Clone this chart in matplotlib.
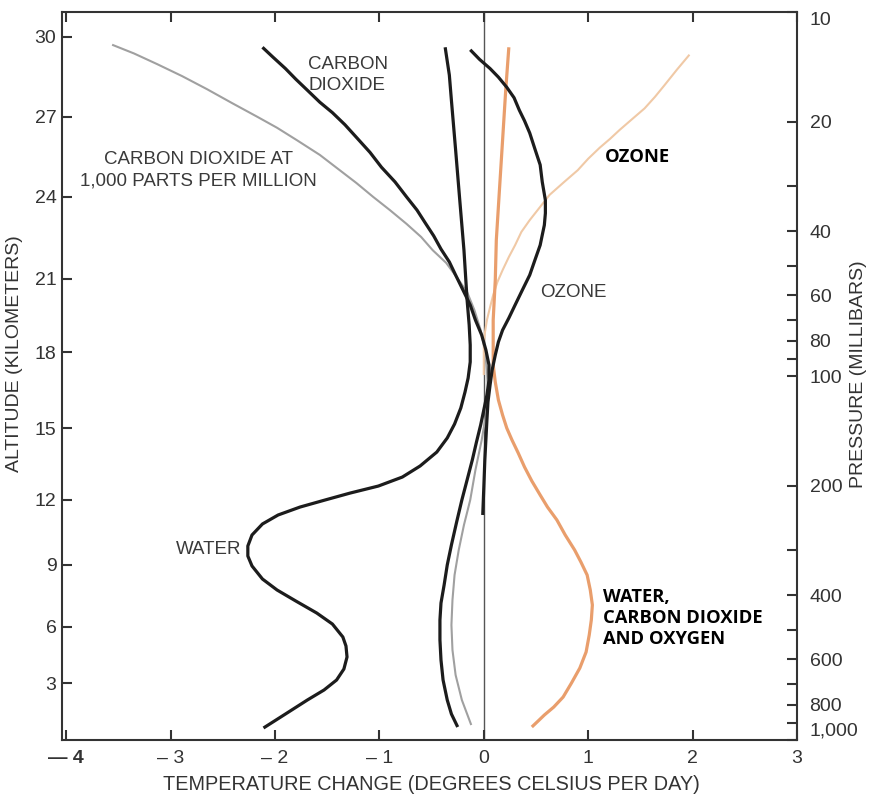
import matplotlib.pyplot as plt
from matplotlib.ticker import FixedLocator, FixedFormatter, NullLocator

plt.rcParams['font.family'] = ['Liberation Sans', 'DejaVu Sans']

# temperature change (deg C / day) against pressure (mb)
co2_1000_t = [-3.56, -3.35, -3.13, -2.89, -2.65, -2.41, -2.17, -1.98, -1.79, -1.57, -1.38, -1.22,
              -1.06, -0.90, -0.74, -0.60, -0.49, -0.36, -0.26, -0.16, -0.09, -0.03, 0.01, 0.03,
              0.04, 0.02, -0.02, -0.08, -0.13, -0.19, -0.24, -0.28, -0.30, -0.31, -0.30, -0.27,
              -0.21, -0.12]
co2_1000_p = [12.3, 13.0, 13.9, 15.0, 16.3, 17.8, 19.4, 20.8, 22.5, 24.7, 27.2, 29.5,
              32.2, 35.0, 38.2, 41.5, 45.1, 48.9, 53.5, 58.8, 65.9, 74.8, 84.8, 96.3,
              109.3, 128.0, 149.9, 181.2, 219.1, 256.6, 300.6, 352.2, 412.5, 483.3, 565.8, 662.8,
              776.5, 909.6]

co2_t = [-2.12, -2.02, -1.90, -1.80, -1.69, -1.57, -1.45, -1.33, -1.22, -1.09, -0.98, -0.85,
         -0.74, -0.64, -0.56, -0.48, -0.41, -0.33, -0.27, -0.20, -0.13, -0.08, -0.02, 0.02,
         0.05, 0.05, 0.03, 0.00, -0.03, -0.07, -0.11, -0.16, -0.21, -0.26, -0.31, -0.35,
         -0.38, -0.41, -0.42, -0.42, -0.41, -0.39, -0.35, -0.31, -0.25]
co2_p = [12.5, 13.3, 14.3, 15.3, 16.4, 17.7, 18.9, 20.4, 22.1, 24.3, 26.7, 29.3,
         32.2, 35.0, 38.0, 41.2, 44.8, 48.6, 52.8, 58.0, 63.8, 70.2, 77.2, 84.8,
         93.3, 102.6, 112.8, 124.0, 136.3, 151.8, 170.1, 193.1, 219.1, 251.8, 291.2, 330.5,
         375.2, 420.5, 468.0, 531.2, 602.8, 684.2, 776.5, 848.5, 921.0]

water_t = [-0.37, -0.33, -0.31, -0.27, -0.23, -0.19, -0.16, -0.14, -0.13, -0.13, -0.15, -0.18,
           -0.22, -0.28, -0.35, -0.45, -0.61, -0.78, -1.01, -1.28, -1.52, -1.76, -1.97, -2.12,
           -2.22, -2.26, -2.26, -2.22, -2.12, -1.98, -1.80, -1.60, -1.45, -1.35, -1.32, -1.31,
           -1.34, -1.41, -1.53, -1.69, -1.90, -2.11]
water_p = [12.5, 14.9, 17.5, 23.9, 32.9, 45.1, 61.8, 72.4, 82.2, 91.5, 101.3, 110.7,
           122.4, 135.5, 148.0, 161.8, 176.7, 189.5, 200.6, 209.7, 219.1, 229.1, 240.9, 255.0,
           273.4, 293.1, 312.3, 332.6, 361.2, 387.2, 415.2, 447.9, 480.2, 521.2, 551.8, 591.6,
           638.3, 684.2, 728.8, 776.5, 848.5, 926.8]

ozone_t = [-0.13, -0.04, 0.06, 0.14, 0.22, 0.29, 0.34, 0.39, 0.44, 0.49, 0.54, 0.56,
           0.59, 0.59, 0.58, 0.56, 0.54, 0.49, 0.44, 0.37, 0.30, 0.24, 0.18, 0.14,
           0.11, 0.08, 0.06, 0.04, 0.03, 0.02, 0.01, 0.00, -0.01]
ozone_p = [12.7, 13.5, 14.3, 15.1, 16.1, 17.2, 18.6, 19.9, 21.5, 23.8, 26.3, 29.3,
           32.9, 35.7, 38.5, 41.0, 43.7, 48.0, 52.8, 58.0, 63.8, 69.3, 74.8, 80.6,
           87.6, 96.3, 105.9, 117.9, 132.1, 149.9, 170.1, 203.1, 240.9]

ozone_new_t = [1.97, 1.85, 1.73, 1.64, 1.54, 1.42, 1.30, 1.21, 1.11, 1.00, 0.90, 0.77, 0.63,
               0.54, 0.44, 0.36, 0.30, 0.24, 0.18, 0.13, 0.09, 0.06, 0.03, 0.01, 0.00, 0.00]
ozone_new_p = [13.1, 14.4, 15.9, 17.1, 18.4, 19.7, 21.1, 22.3, 23.6, 25.3, 27.2, 29.3, 31.8,
               34.3, 37.3, 40.2, 43.7, 47.1, 51.2, 55.2, 59.9, 64.7, 70.2, 76.2, 82.2, 99.4]

wco_t = [0.24, 0.21, 0.18, 0.15, 0.12, 0.11, 0.09, 0.09, 0.09, 0.11, 0.14, 0.18, 0.22,
         0.27, 0.33, 0.39, 0.46, 0.54, 0.61, 0.70, 0.78, 0.87, 0.93, 0.99, 1.02, 1.04,
         1.03, 1.01, 0.98, 0.92, 0.84, 0.76, 0.67, 0.58, 0.52, 0.46]
wco_p = [12.5, 16.4, 22.5, 30.8, 42.3, 54.5, 70.2, 82.2, 93.3, 103.9, 116.4, 128.0, 139.0,
         149.9, 162.8, 177.8, 194.3, 212.3, 229.1, 248.6, 273.4, 300.6, 324.3, 352.2, 387.2, 425.7,
         468.0, 514.6, 573.1, 634.2, 697.3, 762.0, 811.9, 853.8, 887.0, 921.0]

# axis ticks
alt_km = [3, 6, 9, 12, 15, 18, 21, 24, 27, 30]
alt_mb = [698, 489, 330, 219, 139, 86, 54, 32.2, 19.4, 11.7]
p_major = [10, 20, 40, 60, 80, 100, 200, 400, 600, 800, 1000]
p_major_lbl = ['10', '20', '40', '60', '80', '100', '200', '400', '600', '800', '1,000']
p_minor = [30, 50, 70, 90, 300, 500, 700, 900]
t_ticks = [-4, -3, -2, -1, 0, 1, 2, 3]
t_lbl = ['\u2014 4', '\u2013 3', '\u2013 2', '\u2013 1', '0', '1', '2', '3']

W, H = 871, 795
fig = plt.figure(figsize=(W / 100, H / 100), dpi=100)
ax = fig.add_axes([62 / W, 1 - 740 / H, 735 / W, 728 / H])
ax.set_yscale('log')
ax.set_xlim(-4.04, 3)
ax.set_ylim(1000, 10)

ax.axvline(0, color='#555555', lw=1.0, zorder=1)

line_kw = dict(solid_joinstyle='round', solid_capstyle='butt')
ax.plot(co2_1000_t, co2_1000_p, color='#a0a0a0', lw=1.5, zorder=2, **line_kw)
ax.plot(ozone_new_t, ozone_new_p, color='#f0c9a6', lw=1.5, zorder=2, **line_kw)
ax.plot(wco_t, wco_p, color='#e99e6c', lw=2.3, zorder=3, **line_kw)
for t, p in [(co2_t, co2_p), (water_t, water_p), (ozone_t, ozone_p)]:
    ax.plot(t, p, color='#1c1c1c', lw=2.3, zorder=4, **line_kw)

# frame and ticks
for s in ax.spines.values():
    s.set_color('#333333')
    s.set_linewidth(1.5)

ax.set_xticks(t_ticks)
ax.set_xticklabels(t_lbl)
ax.get_xticklabels()[0].set_fontweight('bold')
ax.tick_params(axis='x', top=True, direction='in', length=7, width=1.5, color='#333333',
               labelsize=14, labelcolor='#333333', pad=7)

ax.yaxis.set_major_locator(FixedLocator(alt_mb))
ax.yaxis.set_major_formatter(FixedFormatter([str(a) for a in alt_km]))
ax.yaxis.set_minor_locator(NullLocator())
ax.tick_params(axis='y', which='both', right=False, direction='in', length=7, width=1.5,
               color='#333333', labelsize=14, labelcolor='#333333', pad=4)

ax2 = ax.twinx()
ax2.set_yscale('log')
ax2.set_ylim(1000, 10)
ax2.yaxis.set_major_locator(FixedLocator(p_major))
ax2.yaxis.set_major_formatter(FixedFormatter(p_major_lbl))
ax2.yaxis.set_minor_locator(FixedLocator(p_minor))
ax2.tick_params(axis='y', which='both', direction='in', length=7, width=1.5, color='#333333',
                labelsize=14, labelcolor='#333333', pad=9)
for s in ax2.spines.values():
    s.set_visible(False)
lbls = ax2.get_yticklabels()
lbls[0].set_va('top')
lbls[-1].set_va('bottom')

# axis titles
fig.text(15 / W, 1 - 354 / H, 'ALTITUDE (KILOMETERS)', rotation=90, ha='center', va='center',
         fontsize=14, color='#333333')
fig.text(858 / W, 1 - 374 / H, 'PRESSURE (MILLIBARS)', rotation=90, ha='center', va='center',
         fontsize=14, color='#333333')
fig.text(431 / W, 1 - 785 / H, 'TEMPERATURE CHANGE (DEGREES CELSIUS PER DAY)', ha='center',
         va='center', fontsize=14.3, color='#333333')

# curve labels
grey_kw = dict(fontsize=13.5, color='#3a3a3a', va='center', linespacing=1.35)
fig.text(198 / W, 1 - 170 / H, 'CARBON DIOXIDE AT\n1,000 PARTS PER MILLION', ha='center', **grey_kw)
fig.text(308 / W, 1 - 75 / H, 'CARBON\nDIOXIDE', ha='left', **grey_kw)
fig.text(540 / W, 1 - 293 / H, 'OZONE', ha='left', **grey_kw)
fig.text(241 / W, 1 - 550 / H, 'WATER', ha='right', **grey_kw)

bold_kw = dict(fontsize=13.2, color='black', va='center', fontweight='bold',
               family=['Open Sans', 'DejaVu Sans'], linespacing=1.25)
fig.text(605 / W, 1 - 157 / H, 'OZONE', ha='left', **bold_kw)
fig.text(603 / W, 1 - 618 / H, 'WATER,\nCARBON DIOXIDE\nAND OXYGEN', ha='left', **bold_kw)

fig.savefig('out.png', dpi=100)
